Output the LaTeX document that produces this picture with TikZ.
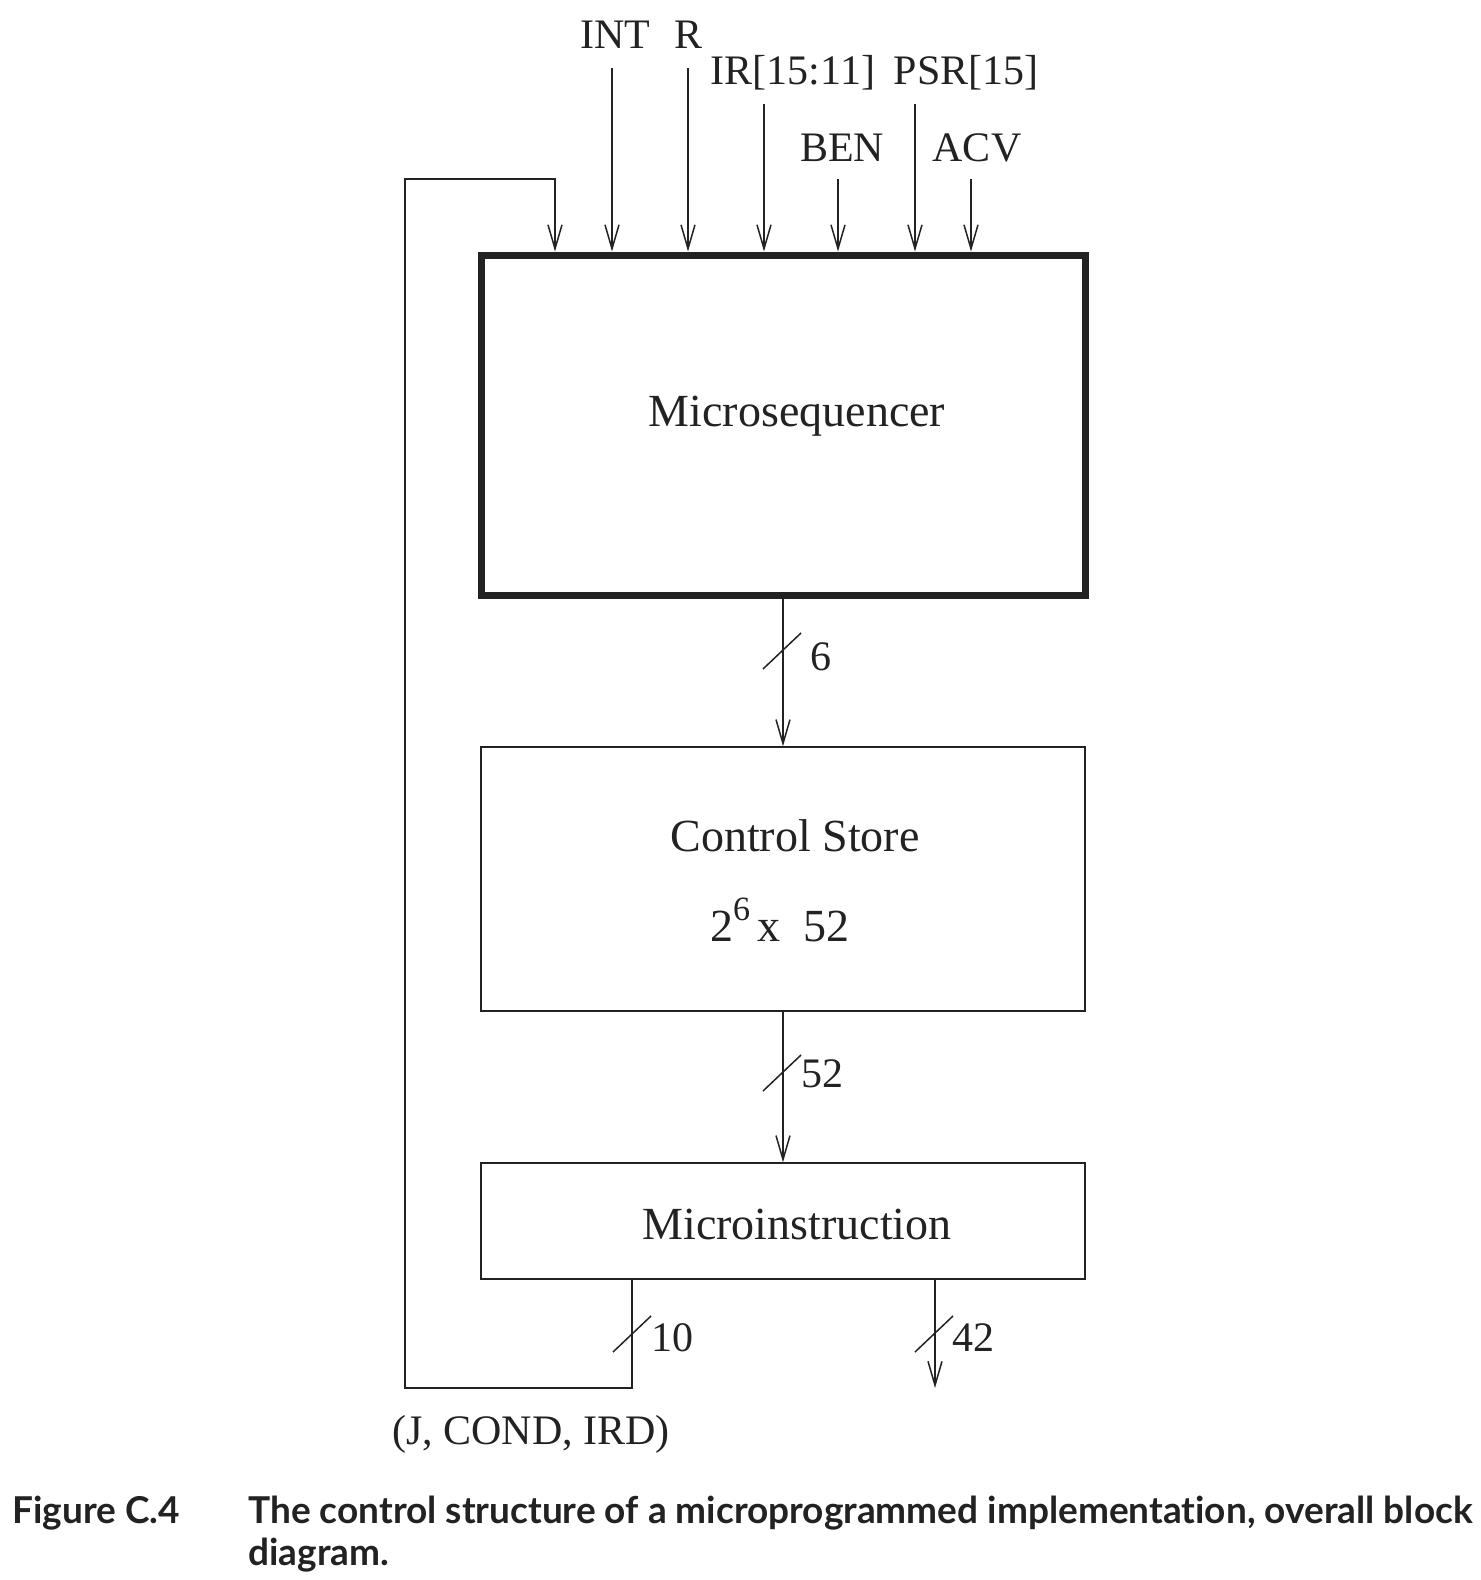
\documentclass[tikz,border=0pt]{standalone}
\usepackage{fontspec}
\setmainfont{Liberation Serif}
\newfontfamily\capfont[Ligatures=NoCommon]{Lato}
\usetikzlibrary{arrows.meta}

\definecolor{ink}{HTML}{222222}

\tikzset{
    sig/.style={draw=ink, line width=0.75pt, -{Straight Barb[length=12pt,width=7pt]}},
    wire/.style={draw=ink, line width=0.75pt},
    blockbox/.style={draw=ink, line width=0.75pt, inner sep=0pt},
    seqbox/.style={draw=ink, line width=3.5pt, inner sep=0pt},
    lbl/.style={text=ink, inner sep=0pt, font=\fontsize{23}{27}\selectfont},
    sigl/.style={text=ink, inner sep=0pt, font=\fontsize{21}{25}\selectfont},
    caption/.style={text=ink, inner sep=0pt, font=\capfont\bfseries\fontsize{18.5}{22}\selectfont}
}

\begin{document}
\begin{tikzpicture}[x=0.5pt, y=-0.5pt]
                \useasboundingbox (0,0) rectangle (1480,1580);
                % blocks
                \node[seqbox, minimum width=302pt, minimum height=170pt] (ms) at (783,425) {};
                \node[blockbox, minimum width=302pt, minimum height=132pt] (cs) at (783,879) {};
                \node[blockbox, minimum width=302pt, minimum height=58pt] (mi) at (783,1221) {};
                \node[lbl] (mstext) at (797,416) {Microsequencer};
                \node[lbl] (cstext) at (795,836) {Control Store};
                \node[lbl] (cssize) at (780,920) {2\raisebox{0.45em}{\fontsize{17}{17}\selectfont 6}\,x\ \ 52};
                \node[lbl] (mitext) at (797,1224) {Microinstruction};
                % inputs
                \node[sigl] (intl) at (615,35) {INT};
                \node[sigl] (rl) at (688,35) {R};
                \node[sigl] (irl) at (793,73) {IR[15:11]};
                \node[sigl] (psrl) at (966,73) {PSR[15]};
                \node[sigl] (benl) at (842,148) {BEN};
                \node[sigl] (acvl) at (977,148) {ACV};
                \coordinate (int) at (612,68);
                \coordinate (r) at (688,68);
                \coordinate (ir) at (764,104);
                \coordinate (ben) at (838,179);
                \coordinate (psr) at (915,104);
                \coordinate (acv) at (971,179);
                \foreach \s in {int,r,ir,ben,psr,acv}
                    \draw[sig] (\s) -- (\s |- ms.north);
                % buses
                \draw[sig] (ms.south) -- (cs.north);
                \draw[sig] (cs.south) -- (mi.north);
                \draw[wire] (763,669) -- (801,633);
                \node[sigl] (w6) at (821,657) {6};
                \draw[wire] (763,1091) -- (801,1055);
                \node[sigl] (w52) at (822,1074) {52};
                % feedback
                \coordinate (fbout) at (632,1388);
                \coordinate (fbl) at (405,1388);
                \coordinate (fbt) at (405,179);
                \coordinate (fbin) at (555,179);
                \draw[sig] (fbout |- mi.south) -- (fbout) -- (fbl) -- (fbt) -- (fbin) -- (fbin |- ms.north);
                \draw[wire] (613,1352) -- (651,1316);
                \node[sigl] (w10) at (672,1338) {10};
                \node[sigl] (fbname) at (531,1434) {(J, COND, IRD)};
                \coordinate (out42) at (935,1388);
                \draw[sig] (out42 |- mi.south) -- (out42);
                \draw[wire] (915,1352) -- (953,1316);
                \node[sigl] (w42) at (973,1338) {42};
                % caption
                \node[caption, anchor=base west] (fig) at (12,1523) {Figure C.4};
                \node[caption, anchor=base west] (cap1) at (248,1523) {The control structure of a microprogrammed implementation, overall block};
                \node[caption, anchor=base west] (cap2) at (248,1565) {diagram.};
            \end{tikzpicture}
\end{document}
